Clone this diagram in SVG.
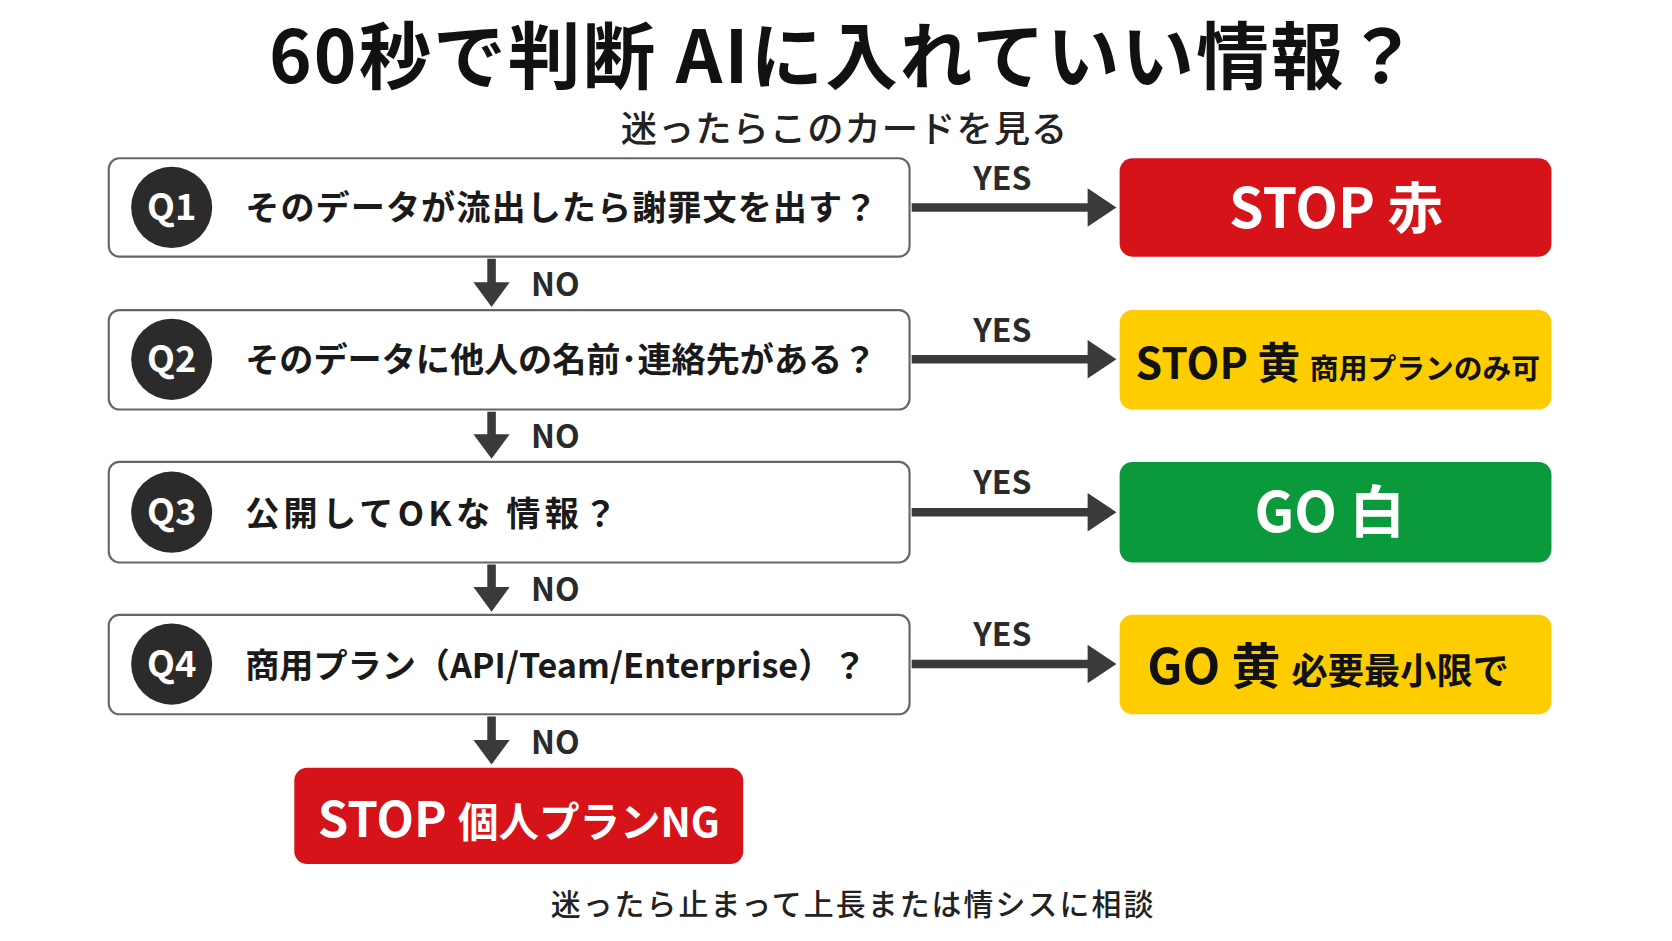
<svg xmlns="http://www.w3.org/2000/svg" width="1672" height="941" viewBox="0 0 1672 941">
<defs>
<style>
text{font-family:"Noto Sans CJK JP","Noto Sans",sans-serif;font-weight:700}
.q{fill:#fff;stroke:#666;stroke-width:2}
.c{fill:#2b2b2b}
.ql{fill:#fff;font-size:34px;text-anchor:middle}
.qt{fill:#1a1a1a;font-size:32px}
.lab{fill:#2a2a2a;font-size:30px}
.sh{stroke:#3a3a3a;stroke-width:8;fill:none}
.hd{fill:#3a3a3a}
.big{font-size:52px;text-anchor:middle}
</style>
</defs>
<rect width="1672" height="941" fill="#fff"/>
<g transform="scale(1.0663,1.0693)">
<text x="792" y="78" font-size="68" font-weight="900" text-anchor="middle" fill="#111" letter-spacing="2">60秒で判断 AIに入れていい情報？</text>
<text x="792" y="133" font-size="34" text-anchor="middle" fill="#222" letter-spacing="1" style="font-weight:500">迷ったらこのカードを見る</text>
<g id="connectors">
<path class="sh" d="M855 194H1022M855 336H1022M855 479H1022M855 621H1022"/>
<path class="hd" d="M1020 176L1047 194L1020 212ZM1020 318L1047 336L1020 354ZM1020 461L1047 479L1020 497ZM1020 603L1047 621L1020 639Z"/>
<text class="lab" x="940" y="178" text-anchor="middle">YES</text>
<text class="lab" x="940" y="320" text-anchor="middle">YES</text>
<text class="lab" x="940" y="462" text-anchor="middle">YES</text>
<text class="lab" x="940" y="604" text-anchor="middle">YES</text>
<path class="sh" d="M461 242V266M461 385V408M461 528V551M461 670V694"/>
<path class="hd" d="M444 264L461 287L478 264ZM444 406L461 429L478 406ZM444 549L461 572L478 549ZM444 692L461 715L478 692Z"/>
<text class="lab" x="498" y="277">NO</text>
<text class="lab" x="498" y="419">NO</text>
<text class="lab" x="498" y="562">NO</text>
<text class="lab" x="498" y="705">NO</text>
</g>
<g id="q1"><rect class="q" x="102" y="148" width="751" height="92" rx="10"/><circle class="c" cx="161" cy="194" r="38"/><text class="ql" x="161" y="206">Q1</text><text class="qt" x="230" y="206" letter-spacing="1">そのデータが流出したら謝罪文を出す？</text></g>
<g id="q2"><rect class="q" x="102" y="290" width="751" height="93" rx="10"/><circle class="c" cx="161" cy="336" r="38"/><text class="ql" x="161" y="348">Q2</text><text class="qt" x="230" y="348">そのデータに他人の名前･連絡先がある？</text></g>
<g id="q3"><rect class="q" x="102" y="432" width="751" height="94" rx="10"/><circle class="c" cx="161" cy="479" r="38"/><text class="ql" x="161" y="491">Q3</text><text class="qt" x="230" y="492" font-size="36" letter-spacing="4">公開してOKな 情報？</text></g>
<g id="q4"><rect class="q" x="102" y="575" width="751" height="93" rx="10"/><circle class="c" cx="161" cy="621" r="38"/><text class="ql" x="161" y="633">Q4</text><text class="qt" x="230" y="634">商用プラン（API/Team/Enterprise）？</text></g>
<g id="r1"><rect x="1050" y="148" width="405" height="92" rx="12" fill="#d7131a"/><text class="big" x="1253" y="213" fill="#fff">STOP 赤</text></g>
<g id="r2"><rect x="1050" y="290" width="405" height="93" rx="12" fill="#fdcd00"/><text x="1065" y="354" font-size="40" fill="#111">STOP 黄 <tspan font-size="27">商用プランのみ可</tspan></text></g>
<g id="r3"><rect x="1050" y="432" width="405" height="94" rx="12" fill="#0a9a3c"/><text class="big" x="1247" y="498" fill="#fff">GO 白</text></g>
<g id="r4"><rect x="1050" y="575" width="405" height="93" rx="12" fill="#fdcd00"/><text x="1076" y="640" font-size="46" fill="#111">GO 黄 <tspan font-size="34">必要最小限で</tspan></text></g>
<g id="r5"><rect x="276" y="718" width="421" height="90" rx="12" fill="#d7131a"/><text x="298" y="783" font-size="46" fill="#fff">STOP <tspan font-size="38">個人プランNG</tspan></text></g>
<text x="800" y="856" font-size="28" text-anchor="middle" fill="#222" letter-spacing="2" style="font-weight:500">迷ったら止まって上長または情シスに相談</text>
</g>
</svg>
